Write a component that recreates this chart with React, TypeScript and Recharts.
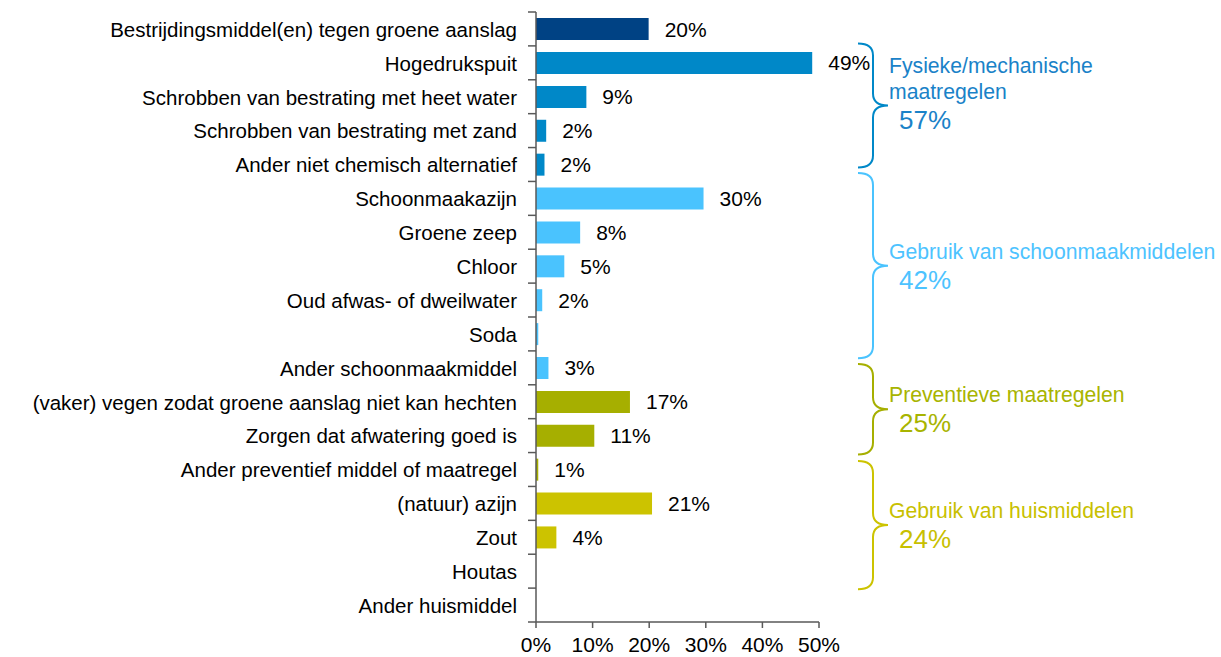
import { BarChart, Bar, XAxis, YAxis, Cell, LabelList, Customized } from "recharts";

const categories = [
  "Bestrijdingsmiddel(en) tegen groene aanslag",
  "Hogedrukspuit",
  "Schrobben van bestrating met heet water",
  "Schrobben van bestrating met zand",
  "Ander niet chemisch alternatief",
  "Schoonmaakazijn",
  "Groene zeep",
  "Chloor",
  "Oud afwas- of dweilwater",
  "Soda",
  "Ander schoonmaakmiddel",
  "(vaker) vegen zodat groene aanslag niet kan hechten",
  "Zorgen dat afwatering goed is",
  "Ander preventief middel of maatregel",
  "(natuur) azijn",
  "Zout",
  "Houtas",
  "Ander huismiddel",
];

const values = [19.9, 48.8, 8.9, 1.8, 1.5, 29.6, 7.8, 5.0, 1.1, 0.4, 2.2, 16.6, 10.3, 0.4, 20.5, 3.6, null, null];

const valueLabels = ["20%", "49%", "9%", "2%", "2%", "30%", "8%", "5%", "2%", "", "3%", "17%", "11%", "1%", "21%", "4%", "", ""];

// which group each row belongs to
const rowGroups = [
  "chem", "fys", "fys", "fys", "fys",
  "schoon", "schoon", "schoon", "schoon", "schoon", "schoon",
  "prev", "prev", "prev",
  "huis", "huis", "huis", "huis",
];

const groupKeys = ["fys", "schoon", "prev", "huis"];
const groupTitles = [["Fysieke/mechanische", "maatregelen"], ["Gebruik van schoonmaakmiddelen"], ["Preventieve maatregelen"], ["Gebruik van huismiddelen"]];
const groupTotals = ["57%", "42%", "25%", "24%"];

const colors: Record<string, string> = {
  chem: "#004284",
  fys: "#0088C8",
  schoon: "#4AC3FE",
  prev: "#A6AF00",
  huis: "#CCC300",
};
const textColors: Record<string, string> = {
  fys: "#1A82C8",
  schoon: "#4DC3FF",
  prev: "#A8B400",
  huis: "#C8C000",
};

// bracket extent in row units, measured from the top of the plot
const bracketSpans = [[0.93, 4.59], [4.75, 10.22], [10.39, 13.06], [13.25, 17.03]];

const W = 1221;
const H = 657;
const MARGIN = { top: 12, right: 402, bottom: 5, left: 0 };
const Y_AXIS_W = 536;
const X_AXIS_H = 30;
const AXIS_X = MARGIN.left + Y_AXIS_W;
const PLOT_RIGHT = W - MARGIN.right;
const PLOT_H = H - MARGIN.top - MARGIN.bottom - X_AXIS_H;
const BAND = PLOT_H / categories.length;
const AXIS_COLOR = "#595959";

const data = categories.map((name, i) => ({
  name,
  value: values[i],
  label: valueLabels[i],
  group: rowGroups[i],
}));

const CategoryTick = ({ x, y, payload, index }: any) => {
  const last = index === categories.length - 1;
  return (
    <g>
      <line x1={AXIS_X - 8} x2={AXIS_X} y1={y - BAND / 2} y2={y - BAND / 2} stroke={AXIS_COLOR} strokeWidth={1.5} />
      {last && <line x1={AXIS_X - 8} x2={AXIS_X} y1={y + BAND / 2} y2={y + BAND / 2} stroke={AXIS_COLOR} strokeWidth={1.5} />}
      <text x={x} y={y} dy="0.38em" textAnchor="end" fontSize={20.5} fill="#000">
        {payload.value}
      </text>
    </g>
  );
};

const Brackets = () => (
  <g>
    {groupKeys.map((g, i) => {
      const top = MARGIN.top + bracketSpans[i][0] * BAND;
      const bottom = MARGIN.top + bracketSpans[i][1] * BAND;
      const mid = (top + bottom) / 2;
      const x0 = PLOT_RIGHT + 39;
      const xs = PLOT_RIGHT + 54;
      const xt = PLOT_RIGHT + 69;
      const r = 12;
      const d = `M ${x0} ${top} Q ${xs} ${top} ${xs} ${top + r} L ${xs} ${mid - r} Q ${xs} ${mid} ${xt} ${mid} Q ${xs} ${mid} ${xs} ${mid + r} L ${xs} ${bottom - r} Q ${xs} ${bottom} ${x0} ${bottom}`;
      const lines = groupTitles[i];
      return (
        <g key={g}>
          <path d={d} fill="none" stroke={colors[g]} strokeWidth={2} />
          {lines.map((t, j) => (
            <text key={t} x={PLOT_RIGHT + 70} y={mid - 7 - (lines.length - 1 - j) * 26} fontSize={21.2} fill={textColors[g]}>
              {t}
            </text>
          ))}
          <text x={PLOT_RIGHT + 80} y={mid + 23} fontSize={26} fill={textColors[g]}>
            {groupTotals[i]}
          </text>
        </g>
      );
    })}
  </g>
);

export default function App() {
  return (
    <div style={{ position: "absolute", left: 0, top: 0, width: W, height: H, background: "#fff", fontFamily: "'Liberation Sans', Arial, sans-serif" }}>
      <BarChart width={W} height={H} data={data} layout="vertical" margin={MARGIN} barCategoryGap="18%">
        <XAxis
          type="number"
          domain={[0, 50]}
          ticks={[0, 10, 20, 30, 40, 50]}
          tickFormatter={(v) => `${v}%`}
          height={X_AXIS_H}
          stroke={AXIS_COLOR}
          strokeWidth={1.5}
          tickSize={6}
          tickMargin={9}
          tick={{ fill: "#000", fontSize: 21 }}
        />
        <YAxis
          type="category"
          dataKey="name"
          width={Y_AXIS_W}
          interval={0}
          stroke={AXIS_COLOR}
          strokeWidth={1.5}
          tickLine={false}
          tickSize={8}
          tickMargin={11}
          tick={<CategoryTick />}
        />
        <Bar dataKey="value" isAnimationActive={false}>
          {data.map((d) => (
            <Cell key={d.name} fill={colors[d.group]} />
          ))}
          <LabelList dataKey="label" position="right" offset={16} fill="#000" fontSize={21} />
        </Bar>
        <Customized component={<Brackets />} />
      </BarChart>
    </div>
  );
}
